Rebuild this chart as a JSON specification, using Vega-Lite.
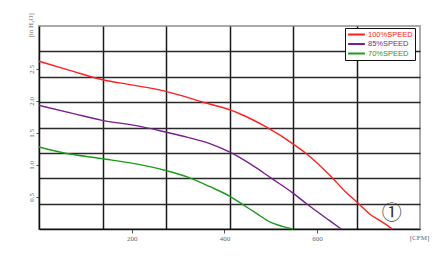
{
  "$schema": "https://vega.github.io/schema/vega-lite/v6.json",
  "width": 381,
  "height": 203,
  "autosize": {"type": "none"},
  "padding": {"left": 39, "top": 26, "right": 20, "bottom": 29},
  "background": "white",
  "config": {
    "view": {"stroke": "#aaaaaa", "strokeWidth": 2},
    "axis": {"labelFont": "Liberation Serif", "titleFont": "Liberation Serif", "labelColor": "#666666", "titleColor": "#666666", "labelFontSize": 7, "titleFontSize": 7, "titleFontWeight": "normal"}
  },
  "data": {
    "values": [
      {"cfm": 0, "p": 2.62, "speed": "100%SPEED"},
      {"cfm": 70, "p": 2.47, "speed": "100%SPEED"},
      {"cfm": 137, "p": 2.33, "speed": "100%SPEED"},
      {"cfm": 200, "p": 2.25, "speed": "100%SPEED"},
      {"cfm": 274, "p": 2.15, "speed": "100%SPEED"},
      {"cfm": 354, "p": 1.98, "speed": "100%SPEED"},
      {"cfm": 412, "p": 1.86, "speed": "100%SPEED"},
      {"cfm": 433, "p": 1.8, "speed": "100%SPEED"},
      {"cfm": 491, "p": 1.59, "speed": "100%SPEED"},
      {"cfm": 548, "p": 1.33, "speed": "100%SPEED"},
      {"cfm": 577, "p": 1.175, "speed": "100%SPEED"},
      {"cfm": 630, "p": 0.82, "speed": "100%SPEED"},
      {"cfm": 660, "p": 0.59, "speed": "100%SPEED"},
      {"cfm": 692, "p": 0.38, "speed": "100%SPEED"},
      {"cfm": 714, "p": 0.23, "speed": "100%SPEED"},
      {"cfm": 740, "p": 0.11, "speed": "100%SPEED"},
      {"cfm": 762, "p": 0, "speed": "100%SPEED"},
      {"cfm": 0, "p": 1.93, "speed": "85%SPEED"},
      {"cfm": 70, "p": 1.81, "speed": "85%SPEED"},
      {"cfm": 134, "p": 1.7, "speed": "85%SPEED"},
      {"cfm": 213, "p": 1.61, "speed": "85%SPEED"},
      {"cfm": 275, "p": 1.51, "speed": "85%SPEED"},
      {"cfm": 321, "p": 1.43, "speed": "85%SPEED"},
      {"cfm": 370, "p": 1.33, "speed": "85%SPEED"},
      {"cfm": 412, "p": 1.2, "speed": "85%SPEED"},
      {"cfm": 455, "p": 1.02, "speed": "85%SPEED"},
      {"cfm": 502, "p": 0.79, "speed": "85%SPEED"},
      {"cfm": 548, "p": 0.56, "speed": "85%SPEED"},
      {"cfm": 578, "p": 0.39, "speed": "85%SPEED"},
      {"cfm": 627, "p": 0.13, "speed": "85%SPEED"},
      {"cfm": 652, "p": 0, "speed": "85%SPEED"},
      {"cfm": 0, "p": 1.28, "speed": "70%SPEED"},
      {"cfm": 52, "p": 1.19, "speed": "70%SPEED"},
      {"cfm": 134, "p": 1.1, "speed": "70%SPEED"},
      {"cfm": 206, "p": 1.02, "speed": "70%SPEED"},
      {"cfm": 275, "p": 0.91, "speed": "70%SPEED"},
      {"cfm": 321, "p": 0.81, "speed": "70%SPEED"},
      {"cfm": 369, "p": 0.66, "speed": "70%SPEED"},
      {"cfm": 412, "p": 0.51, "speed": "70%SPEED"},
      {"cfm": 440, "p": 0.38, "speed": "70%SPEED"},
      {"cfm": 470, "p": 0.24, "speed": "70%SPEED"},
      {"cfm": 498, "p": 0.11, "speed": "70%SPEED"},
      {"cfm": 525, "p": 0.04, "speed": "70%SPEED"},
      {"cfm": 548, "p": 0, "speed": "70%SPEED"}
    ]
  },
  "layer": [
    {
      "mark": {"type": "line", "strokeOpacity": 0},
      "encoding": {
        "x": {"field": "cfm", "type": "quantitative", "scale": {"domain": [0, 822], "nice": false, "zero": false},
          "axis": {"orient": "top", "values": [137, 274, 411, 548, 685], "grid": true, "gridColor": "#1a1a1a", "gridWidth": 1.5, "gridOpacity": 1, "labels": false, "ticks": false, "domain": false, "title": null}},
        "y": {"field": "p", "type": "quantitative", "scale": {"domain": [0, 3.17], "nice": false, "zero": false},
          "axis": {"orient": "right", "values": [0.396, 0.793, 1.189, 1.585, 1.981, 2.378, 2.774], "grid": true, "gridColor": "#2a2a2a", "gridWidth": 1.5, "gridOpacity": 1, "labels": false, "ticks": false, "domain": false, "title": null}},
        "detail": {"field": "speed"}
      }
    },
    {
      "mark": {"type": "line", "interpolate": "monotone", "strokeWidth": 1.4},
      "encoding": {
        "x": {"field": "cfm", "type": "quantitative",
          "axis": {"orient": "bottom", "values": [200, 400, 600], "grid": false, "domainColor": "#111111", "domainWidth": 1.5, "tickColor": "#555555", "tickSize": 4, "labelPadding": 1, "title": "[CFM]", "titleX": 380, "titleY": 8, "titleAlign": "center", "titleBaseline": "middle"}},
        "y": {"field": "p", "type": "quantitative",
          "axis": {"orient": "left", "values": [0.5, 1, 1.5, 2, 2.5], "format": ".1f", "grid": false, "domainColor": "#111111", "domainWidth": 1.5, "tickColor": "#555555", "tickSize": 3, "labelAngle": 270, "labelAlign": "center", "labelBaseline": "bottom", "labelPadding": 2, "title": "[in H₂O]", "titleAngle": 270, "titleX": -9, "titleY": 11, "titleAlign": "left", "titleBaseline": "middle"}},
        "color": {"field": "speed", "type": "nominal",
          "scale": {"domain": ["100%SPEED", "85%SPEED", "70%SPEED"], "range": ["#ff2020", "#7a1f8e", "#1e9a1e"]},
          "legend": {"orient": "none", "legendX": 306, "legendY": 2, "title": null, "symbolType": "M-2.4,0H2.4", "symbolSize": 49, "symbolStrokeWidth": 2, "symbolOffset": 5, "labelFontSize": 7.5, "labelFont": "Liberation Sans", "strokeColor": "#111111", "fillColor": "white", "padding": 2, "rowPadding": 0.5, "labelOffset": 7,
            "encode": {"labels": {"update": {"fill": {"scale": "color", "field": "value"}}}}}
        }
      }
    },
    {
      "data": {"values": [{"cfm": 761, "p": 0.24, "t": "①"}]},
      "mark": {"type": "text", "font": "Noto Sans CJK SC", "fontSize": 20, "color": "#333333"},
      "encoding": {
        "x": {"field": "cfm", "type": "quantitative", "axis": null},
        "y": {"field": "p", "type": "quantitative", "axis": null},
        "text": {"field": "t"}
      }
    }
  ],
  "resolve": {"axis": {"x": "independent", "y": "independent"}}
}
